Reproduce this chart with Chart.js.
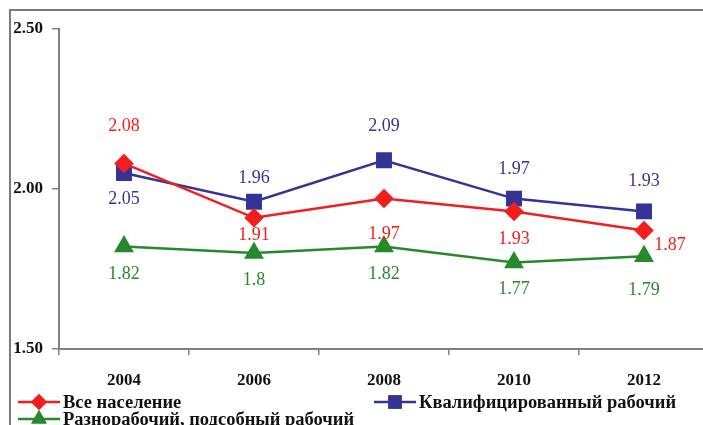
<!DOCTYPE html>
<html>
<head>
<meta charset="utf-8">
<script src="https://cdn.jsdelivr.net/npm/chart.js@4/dist/chart.umd.min.js"></script>
<style>
  html, body { margin: 0; padding: 0; background: #fff; overflow: hidden; }
  #wrap { position: relative; width: 703px; height: 425px; overflow: hidden; }
  #cadre { position: absolute; left: 9px; top: 9px; width: 720px; height: 440px; border: 2px solid #7a7a7a; box-sizing: border-box; }
  #c { position: absolute; left: 0; top: 0; }
</style>
</head>
<body>
<div id="wrap">
  <div id="cadre"></div>
  <canvas id="c" width="721" height="425"></canvas>
</div>
<script>
// données
const annees = ["2004", "2006", "2008", "2010", "2012"];
const toutePopulation = [2.08, 1.91, 1.97, 1.93, 1.87];
const qualifies = [2.05, 1.96, 2.09, 1.97, 1.93];
const manoeuvres = [1.82, 1.8, 1.82, 1.77, 1.79];
const nomsSeries = ["Все население", "Квалифицированный рабочий", "Разнорабочий, подсобный рабочий"];
const graduationsY = [1.5, 2.0, 2.5];

const ROUGE = "#f41d1d";
const BLEU = "#343497";
const VERT = "#26892b";
const police = "'Liberation Serif', 'Times New Roman', serif";

// décalages des étiquettes (dx, dy) par rapport au point
const decalages = [
  [[0, -37], [0, 17], [0, 36], [0, 28], [26, 15]],
  [[0, 26], [0, -24], [0, -34], [0, -29], [0, -30]],
  [[0, 28], [0, 27], [0, 28], [0, 27], [0, 34]]
];

const pluginEtiquettes = {
  id: "etiquettes",
  afterDatasetsDraw(chart) {
    const ctx = chart.ctx;
    ctx.save();
    ctx.font = "18px " + police;
    ctx.textAlign = "center";
    ctx.textBaseline = "middle";
    chart.data.datasets.forEach((ds, i) => {
      const meta = chart.getDatasetMeta(i);
      meta.data.forEach((pt, j) => {
        ctx.fillStyle = ds.borderColor;
        const d = decalages[i][j];
        ctx.fillText(String(ds.data[j]), pt.x + d[0], pt.y + d[1]);
      });
    });
    ctx.restore();
  }
};

// légende dessinée à la main
const pluginLegende = {
  id: "legende",
  afterDraw(chart) {
    const ctx = chart.ctx;
    const places = [[18, 402], [374, 402], [18, 419]];
    ctx.save();
    ctx.font = "bold 18.5px " + police;
    ctx.textBaseline = "middle";
    ctx.textAlign = "left";
    chart.data.datasets.forEach((ds, i) => {
      const [x, y] = places[i];
      ctx.strokeStyle = ds.borderColor;
      ctx.lineWidth = 2.5;
      ctx.beginPath();
      ctx.moveTo(x, y);
      ctx.lineTo(x + 42, y);
      ctx.stroke();
      ctx.fillStyle = ds.borderColor;
      Chart.helpers.drawPoint(ctx, { pointStyle: ds.pointStyle, radius: ds.pointRadius, rotation: 0, borderWidth: 0 }, x + 21, y);
      ctx.fill();
      ctx.fillStyle = "#111";
      ctx.fillText(ds.label, x + 45, y + 1);
    });
    ctx.restore();
  }
};

new Chart(document.getElementById("c"), {
  type: "line",
  data: {
    labels: annees,
    datasets: [
      { label: nomsSeries[0], data: toutePopulation, borderColor: ROUGE, backgroundColor: ROUGE,
        pointStyle: "rectRot", pointRadius: 8, borderWidth: 2.5 },
      { label: nomsSeries[1], data: qualifies, borderColor: BLEU, backgroundColor: BLEU,
        pointStyle: "rect", pointRadius: 9.5, borderWidth: 2.5 },
      { label: nomsSeries[2], data: manoeuvres, borderColor: VERT, backgroundColor: VERT,
        pointStyle: "triangle", pointRadius: 9, borderWidth: 2.5 }
    ]
  },
  options: {
    responsive: false,
    animation: false,
    layout: { padding: { left: 0, top: 29, right: 3, bottom: 0 } },
    plugins: { legend: { display: false }, tooltip: { enabled: false } },
    elements: { line: { tension: 0 }, point: { borderWidth: 0 } },
    scales: {
      x: {
        offset: true,
        grid: { offset: true, drawOnChartArea: false, drawTicks: true, tickLength: 6, color: "#808080", lineWidth: 1.5 },
        border: { display: true, color: "#808080", width: 2 },
        ticks: { color: "#111", font: { family: police, size: 17, weight: "bold" }, padding: 15 },
        afterFit(scale) { scale.height = 76; }
      },
      y: {
        min: 1.5,
        max: 2.5,
        afterBuildTicks(scale) { scale.ticks = graduationsY.map(v => ({ value: v })); },
        grid: { drawOnChartArea: false, drawTicks: true, tickLength: 7, color: "#808080", lineWidth: 1.5 },
        border: { display: true, color: "#808080", width: 2 },
        ticks: {
          color: "#111", padding: 9,
          font: { family: police, size: 17, weight: "bold" },
          callback: v => Number(v).toFixed(2)
        },
        afterFit(scale) { scale.width = 59; }
      }
    }
  },
  plugins: [pluginEtiquettes, pluginLegende]
});
</script>
</body>
</html>
